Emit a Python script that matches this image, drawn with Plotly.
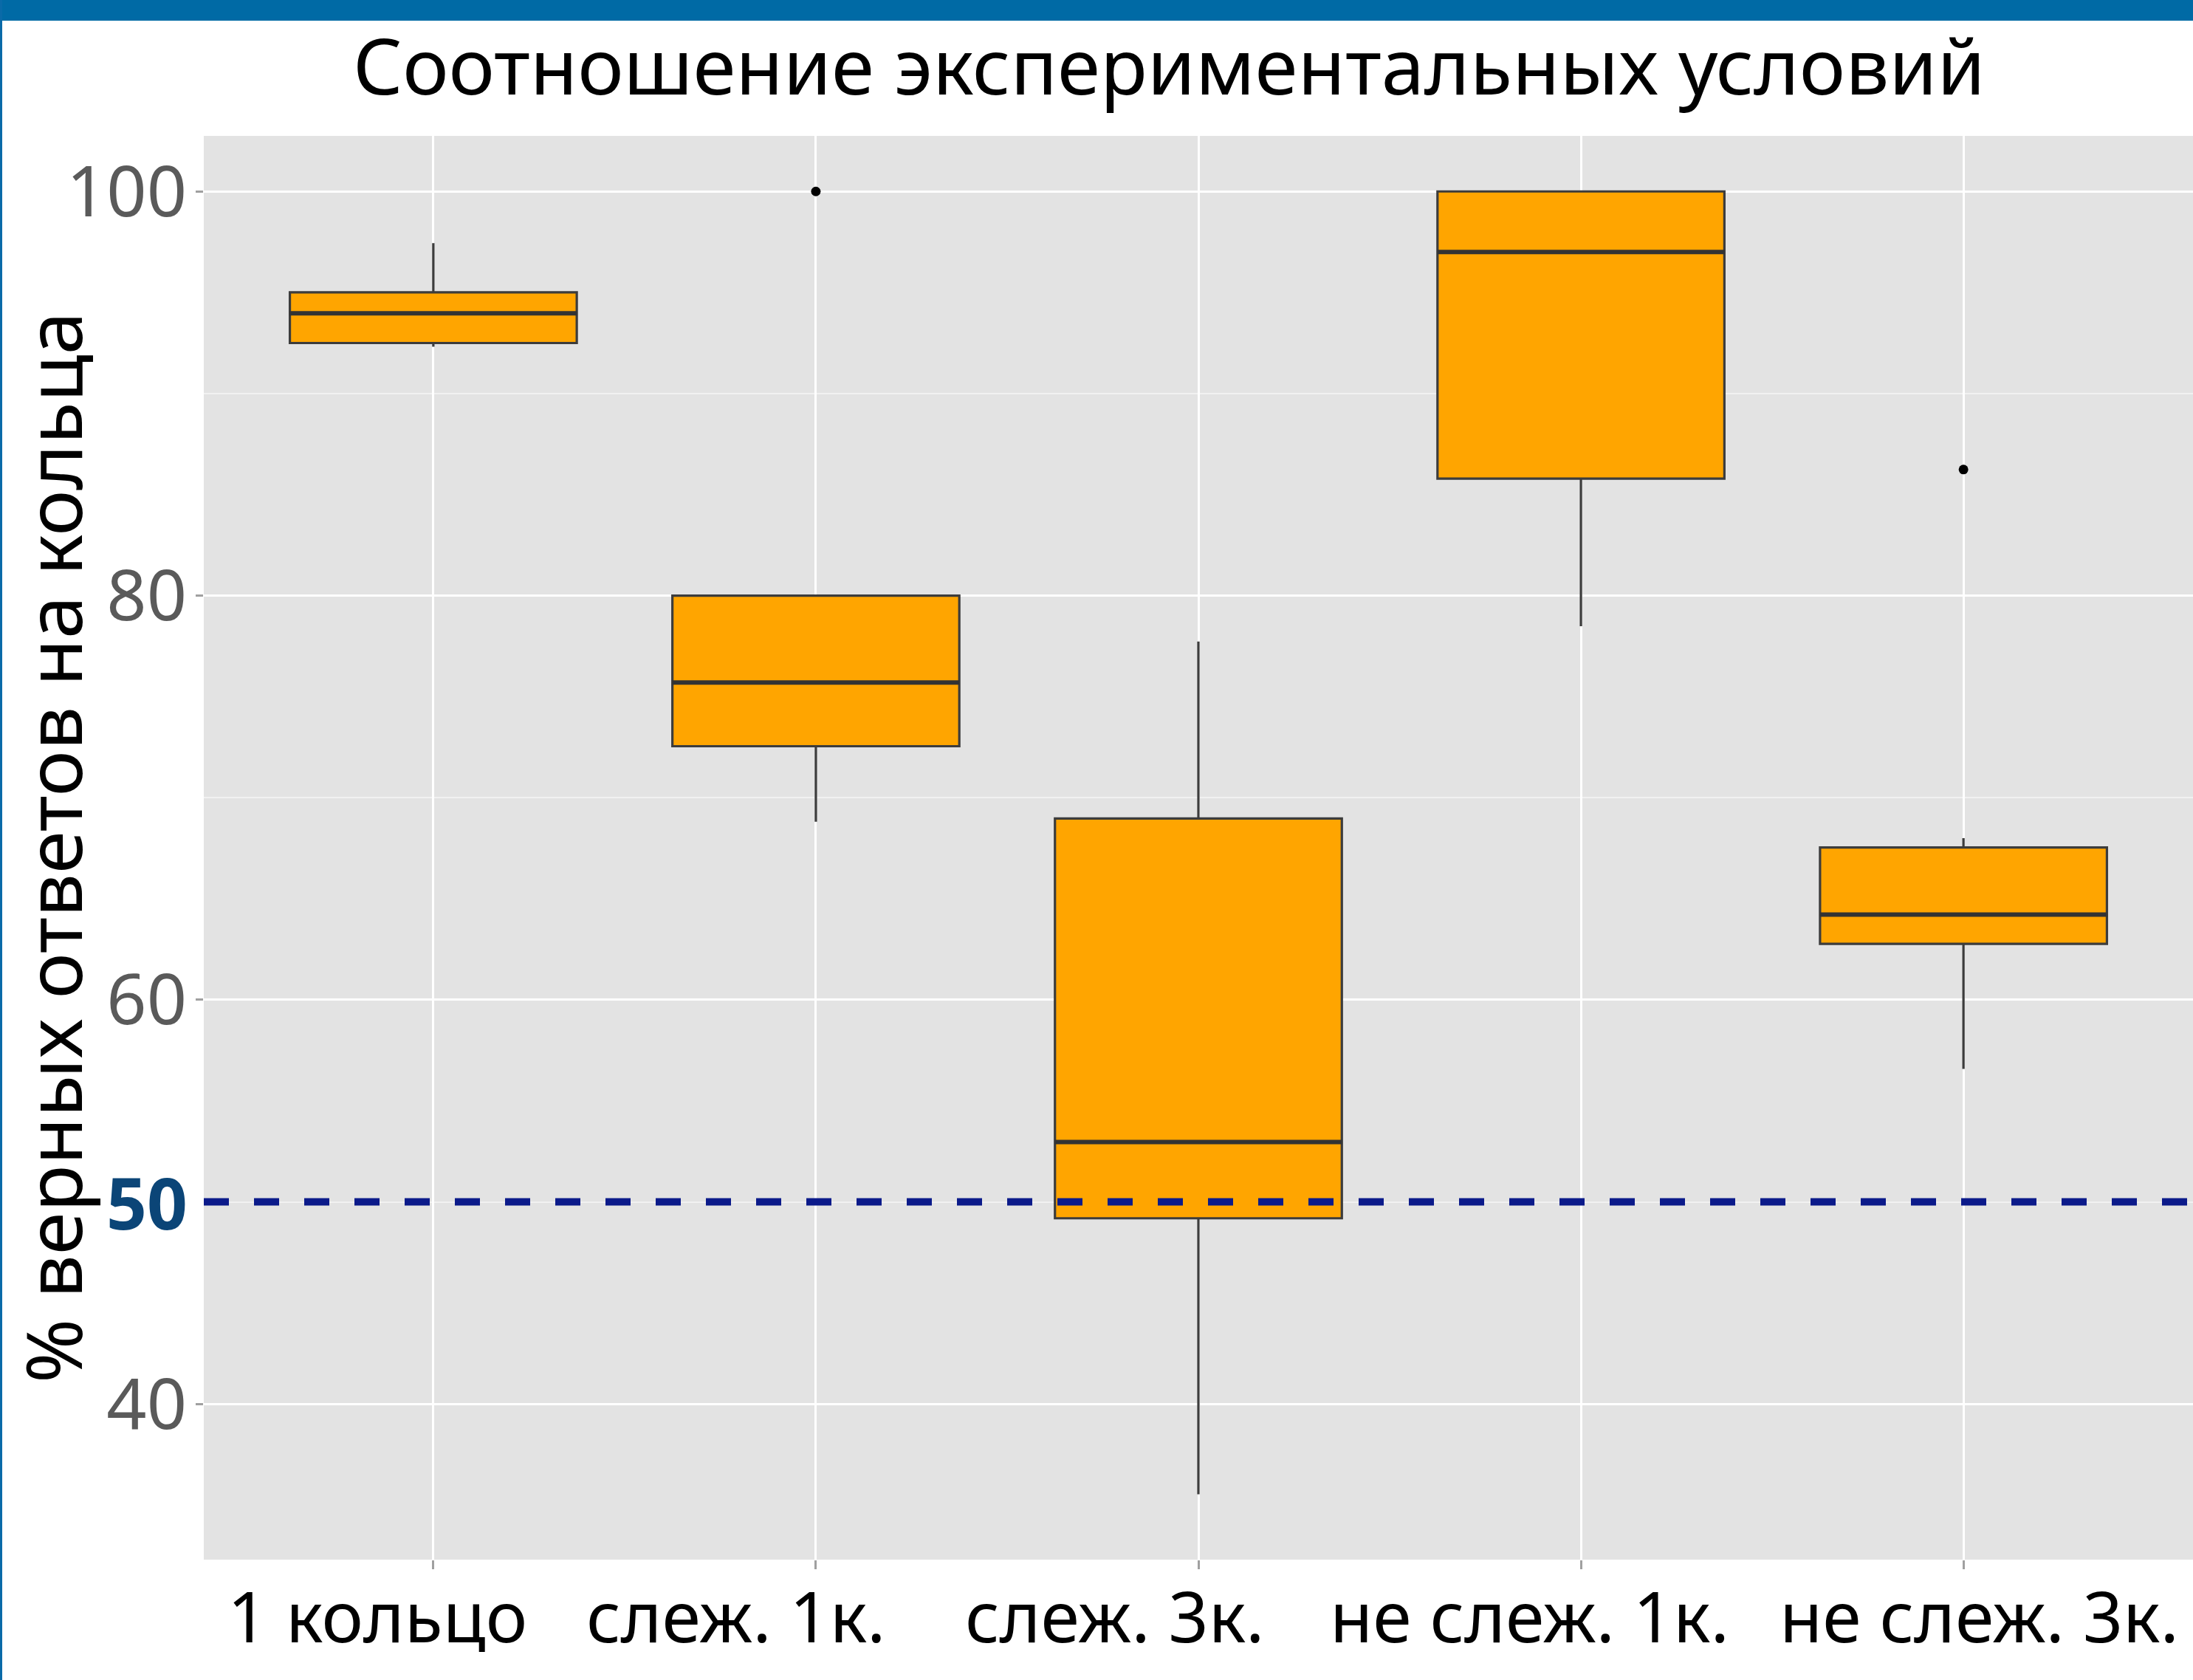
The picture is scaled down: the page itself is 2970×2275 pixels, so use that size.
import plotly.graph_objects as go

# ---- data ----
categories = ["1 кольцо", "слеж. 1к.", "слеж. 3к.", "не слеж. 1к.", "не слеж. 3к."]
q1_values = [92.50, 72.55, 49.19, 85.79, 62.77]
median_values = [93.97, 75.70, 52.96, 97.00, 64.22]
q3_values = [95.01, 80.00, 68.97, 100.00, 67.54]
lower_whisker = [92.32, 68.81, 35.53, 78.49, 56.58]
upper_whisker = [97.44, 80.00, 77.73, 100.00, 68.00]
outlier_categories = ["слеж. 1к.", "не слеж. 3к."]
outlier_values = [100.0, 86.24]
reference_level = 50
y_major_ticks = [40, 60, 80, 100]
y_minor_ticks = [50, 70, 90]

title_text = "Соотношение экспериментальных условий"
y_title_text = "% верных ответов на кольца"

# ---- geometry helpers (page pixels) ----
W, H = 2970, 2275
L, R, T, B = 276, 0, 184, 163
PW = W - L - R
PH = H - T - B


def px_x(p):
    return (p - L) / PW


def px_y(p):
    return (H - B - p) / PH


FONT = "Noto Sans"
BOX_WIDTH = 0.75
# horizontal offsets (px) of the category labels as placed in the reference
label_shift_px = [-76, -108, -113, -70, 21]

fig = go.Figure()

fig.add_trace(go.Box(
    x=categories,
    q1=q1_values,
    median=median_values,
    q3=q3_values,
    lowerfence=lower_whisker,
    upperfence=upper_whisker,
    fillcolor="#ffa500",
    line=dict(color="#3c3c3c", width=3.2),
    whiskerwidth=0,
    boxpoints=False,
    showlegend=False,
    hoverinfo="skip",
))

fig.add_trace(go.Scatter(
    x=outlier_categories,
    y=outlier_values,
    mode="markers",
    marker=dict(color="black", size=13),
    showlegend=False,
    hoverinfo="skip",
))

# thicker median lines (ggplot style)
for i, m in enumerate(median_values):
    fig.add_shape(type="line", xref="x", yref="y",
                  x0=i - BOX_WIDTH / 2, x1=i + BOX_WIDTH / 2, y0=m, y1=m,
                  line=dict(color="#333333", width=6), layer="above")

# reference dashed line
fig.add_hline(y=reference_level, line=dict(color="#0b1a8a", width=10, dash="34px,34px"), layer="above")

# slide decorations: blue top bar and left border
fig.add_shape(type="rect", xref="paper", yref="paper",
              x0=px_x(0), x1=px_x(W), y0=px_y(28), y1=px_y(0),
              fillcolor="#006aa5", line=dict(width=0), layer="above")
fig.add_shape(type="rect", xref="paper", yref="paper",
              x0=px_x(0), x1=px_x(3), y0=px_y(H), y1=px_y(0),
              fillcolor="#0a6aa8", line=dict(width=0), layer="above")

# title
fig.add_annotation(text=title_text, xref="paper", yref="paper",
                   x=px_x(1583), y=px_y(88), xanchor="center", yanchor="middle",
                   showarrow=False, font=dict(family=FONT, size=105, color="black"))

# y-axis title
fig.add_annotation(text=y_title_text, xref="paper", yref="paper",
                   x=px_x(70), y=px_y(1148), xanchor="center", yanchor="middle",
                   textangle=-90, showarrow=False,
                   font=dict(family=FONT, size=105, color="black"))

# bold "50" label
fig.add_annotation(text="<b>%d</b>" % reference_level, xref="paper", yref="y",
                   x=px_x(256), y=reference_level, xanchor="right", yanchor="middle",
                   showarrow=False, font=dict(family=FONT, size=96, color="#0b4577"))

# category labels (placed as in the reference)
for cat, shift in zip(categories, label_shift_px):
    fig.add_annotation(text=cat, xref="x", yref="paper",
                       x=cat, y=px_y(2187), xshift=shift,
                       xanchor="center", yanchor="middle", showarrow=False,
                       font=dict(family=FONT, size=95, color="black"))

fig.update_layout(
    width=W, height=H,
    margin=dict(l=L, r=R, t=T, b=B, pad=0),
    paper_bgcolor="white",
    plot_bgcolor="#e3e3e3",
    boxgap=0.25,
    boxgroupgap=0,
    showlegend=False,
    xaxis=dict(
        type="category",
        categoryorder="array",
        categoryarray=categories,
        range=[-0.6, len(categories) - 0.4],
        showgrid=True, gridcolor="white", gridwidth=3,
        ticks="outside", ticklen=12, tickwidth=2.5, tickcolor="#a0a0a0",
        showticklabels=False,
        showline=False, zeroline=False,
    ),
    yaxis=dict(
        range=[32.3, 102.75],
        tickmode="array", tickvals=y_major_ticks,
        showgrid=True, gridcolor="white", gridwidth=3,
        minor=dict(tickmode="array", tickvals=y_minor_ticks, showgrid=True,
                   gridcolor="#f1f1f1", gridwidth=1.5, ticks=""),
        ticks="outside", ticklen=10, tickwidth=2.5, tickcolor="#a0a0a0",
        tickfont=dict(family=FONT, size=95, color="#5a5a5a"),
        ticklabelstandoff=-7,
        showline=False, zeroline=False,
    ),
)

fig.write_html("out.html",
               config={"displayModeBar": False},
               post_script="document.body.style.margin='0';document.body.style.overflow='hidden';")
